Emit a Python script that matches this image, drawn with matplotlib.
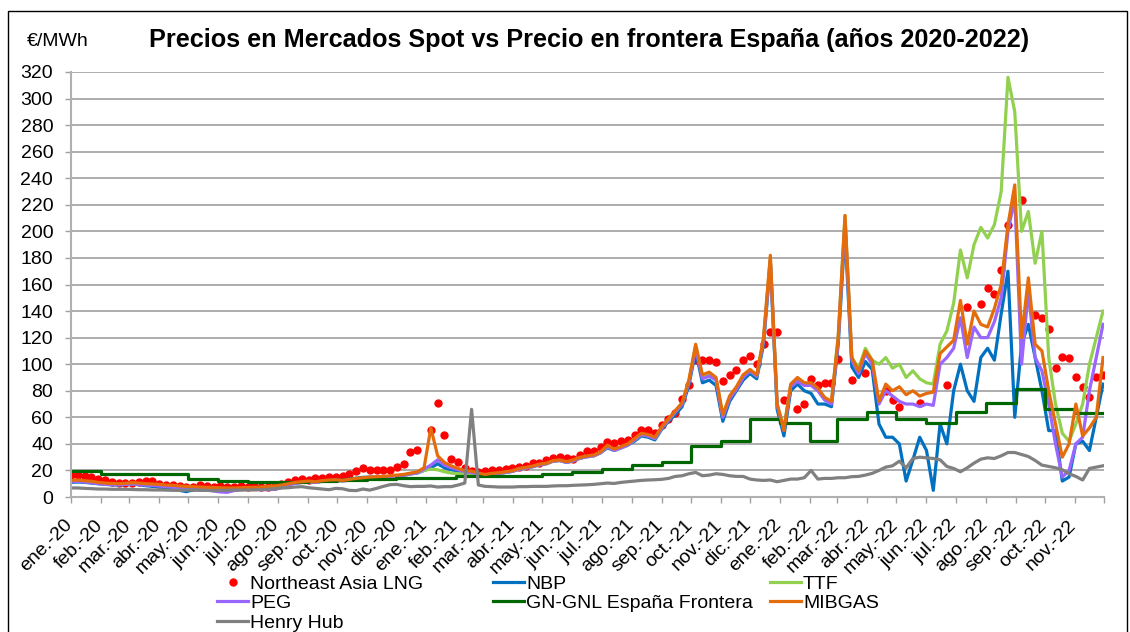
import numpy as np
import pandas as pd
import matplotlib
matplotlib.use('Agg')
import matplotlib.pyplot as plt
from matplotlib.patches import Rectangle
from matplotlib.transforms import ScaledTranslation

plt.rcParams['font.family'] = ['Liberation Sans', 'DejaVu Sans']

# weekly values, 2020-01-01 .. 2022-11-30 (€/MWh)
semanas = pd.date_range('2020-01-01', periods=153, freq='7D')

mibgas = [12.5, 12.8, 12.3, 11.8, 11.0, 10.5, 10.2, 10.0, 10.3, 10.8,
          10.5, 10.0, 9.8, 9.5, 9.0, 8.8, 8.3, 8.0, 7.8, 7.5,
          7.3, 7.2, 7.0, 6.8, 6.8, 7.0, 7.2, 7.3, 7.5, 8.0,
          8.3, 9.0, 10.0, 11.0, 11.5, 12.0, 11.5, 12.3, 12.8, 13.0,
          12.5, 13.3, 14.0, 14.5, 15.0, 15.3, 15.5, 16.0, 16.5, 17.0,
          18.0, 19.0, 22.0, 52.0, 31.0, 26.0, 23.5, 21.5, 19.8, 19.5,
          18.0, 17.0, 17.8, 18.3, 19.0, 19.8, 21.5, 22.3, 23.3, 24.8,
          25.4, 27.4, 27.9, 26.6, 28.0, 29.9, 30.9, 31.6, 34.0, 39.0,
          36.0, 38.0, 40.0, 44.0, 48.0, 47.0, 45.0, 53.0, 59.0, 65.0,
          71.0, 88.0, 115.0, 92.0, 94.0, 90.0, 62.0, 76.0, 83.0, 92.0,
          96.0, 92.0, 120.0, 182.0, 70.0, 50.0, 85.0, 90.0, 86.0, 86.0,
          82.0, 75.0, 72.0, 120.0, 212.0, 105.0, 95.0, 110.0, 103.0, 72.0,
          85.0, 80.0, 83.0, 77.0, 80.0, 76.0, 78.0, 79.0, 108.0, 113.0,
          118.0, 148.0, 115.0, 140.0, 130.0, 128.0, 142.0, 160.0, 205.0, 235.0,
          120.0, 165.0, 115.0, 110.0, 80.0, 55.0, 30.0, 40.0, 70.0, 46.0,
          52.0, 60.0, 105.0]

peg = [11.5, 11.8, 11.3, 10.8, 10.0, 9.5, 9.3, 9.2, 9.5, 9.8,
       9.5, 9.0, 8.7, 8.3, 7.8, 7.3, 6.8, 6.2, 6.0, 5.8,
       5.3, 4.5, 3.8, 3.5, 4.8, 5.5, 6.0, 6.0, 5.5, 5.5,
       5.8, 7.0, 9.0, 10.3, 11.0, 11.5, 11.0, 11.8, 12.3, 12.5,
       12.0, 12.8, 13.5, 14.0, 14.3, 14.5, 14.8, 15.3, 15.8, 16.3,
       17.3, 18.3, 21.0, 24.0, 28.0, 24.0, 22.0, 20.5, 19.0, 18.5,
       17.3, 16.5, 17.3, 17.8, 18.5, 19.3, 21.0, 21.8, 22.8, 24.3,
       25.0, 27.0, 27.5, 26.0, 27.3, 29.3, 30.3, 31.0, 33.3, 38.0,
       35.0, 37.0, 39.0, 43.0, 47.0, 46.0, 44.0, 52.0, 58.0, 64.0,
       70.0, 86.0, 112.0, 89.0, 91.0, 88.0, 60.0, 74.0, 81.0, 90.0,
       95.0, 91.0, 118.0, 178.0, 69.0, 50.0, 83.0, 87.0, 84.0, 84.0,
       80.0, 73.0, 70.0, 118.0, 208.0, 103.0, 93.0, 108.0, 100.0, 70.0,
       80.0, 76.0, 72.0, 70.0, 70.0, 68.0, 70.0, 69.0, 100.0, 105.0,
       112.0, 135.0, 105.0, 128.0, 120.0, 120.0, 132.0, 150.0, 200.0, 225.0,
       100.0, 155.0, 105.0, 95.0, 70.0, 40.0, 15.0, 20.0, 40.0, 45.0,
       80.0, 105.0, 130.0]

nbp = [11.0, 11.3, 11.0, 10.5, 10.0, 9.5, 9.2, 9.0, 9.5, 9.8,
       9.3, 8.5, 8.0, 7.5, 7.0, 6.0, 5.0, 4.0, 5.5, 5.5,
       5.3, 5.0, 5.0, 5.5, 6.0, 6.0, 6.0, 6.2, 6.5, 7.0,
       7.5, 8.5, 9.5, 10.5, 11.0, 11.5, 11.0, 12.0, 12.5, 12.8,
       12.5, 13.5, 14.2, 14.8, 15.0, 15.0, 15.0, 15.5, 16.0, 16.5,
       17.5, 18.0, 20.0, 22.0, 25.0, 22.0, 20.5, 19.5, 18.5, 18.0,
       17.0, 16.5, 17.3, 17.8, 18.5, 19.3, 21.0, 21.8, 22.8, 24.3,
       25.0, 27.0, 27.5, 26.0, 27.3, 29.3, 30.3, 31.0, 33.3, 37.0,
       35.0, 37.0, 39.0, 42.0, 46.0, 45.0, 43.0, 51.0, 57.0, 62.0,
       68.0, 84.0, 110.0, 86.0, 88.0, 84.0, 57.0, 72.0, 80.0, 88.0,
       93.0, 89.0, 115.0, 176.0, 66.0, 46.0, 80.0, 85.0, 80.0, 78.0,
       70.0, 70.0, 68.0, 115.0, 200.0, 98.0, 90.0, 102.0, 96.0, 55.0,
       45.0, 45.0, 40.0, 12.0, 28.0, 45.0, 35.0, 5.0, 55.0, 40.0,
       80.0, 100.0, 80.0, 72.0, 105.0, 112.0, 103.0, 138.0, 170.0, 60.0,
       115.0, 130.0, 105.0, 80.0, 50.0, 50.0, 12.0, 15.0, 40.0, 42.0,
       35.0, 60.0, 85.0]

ttf = [11.8, 12.0, 11.6, 11.1, 10.3, 9.8, 9.5, 9.3, 9.6, 10.0,
       9.8, 9.3, 9.0, 8.6, 8.2, 7.8, 7.3, 6.8, 6.5, 6.3,
       6.0, 5.8, 5.6, 5.8, 6.0, 6.3, 6.5, 6.6, 6.8, 7.3,
       7.7, 8.5, 9.5, 10.5, 11.0, 11.5, 11.0, 11.8, 12.3, 12.5,
       12.0, 12.8, 13.5, 14.0, 14.3, 14.5, 14.8, 15.3, 15.8, 16.3,
       17.3, 18.3, 20.0, 21.0, 20.5, 19.0, 18.0, 17.5, 17.5, 17.8,
       17.0, 16.5, 17.3, 17.8, 18.5, 19.3, 21.0, 21.8, 22.8, 24.3,
       25.0, 27.0, 27.5, 26.0, 27.3, 29.3, 30.3, 31.0, 33.3, 38.0,
       35.0, 37.0, 39.0, 43.0, 47.0, 46.0, 44.0, 52.0, 58.0, 64.0,
       70.0, 87.0, 114.0, 90.0, 92.0, 89.0, 61.0, 75.0, 82.0, 91.0,
       95.0, 91.0, 119.0, 180.0, 70.0, 52.0, 84.0, 88.0, 85.0, 85.0,
       81.0, 74.0, 71.0, 122.0, 212.0, 105.0, 97.0, 112.0, 103.0, 100.0,
       105.0, 97.0, 100.0, 90.0, 95.0, 89.0, 86.0, 85.0, 115.0, 125.0,
       146.0, 186.0, 165.0, 190.0, 203.0, 195.0, 205.0, 230.0, 316.0, 290.0,
       200.0, 215.0, 176.0, 200.0, 105.0, 70.0, 48.0, 42.0, 55.0, 70.0,
       100.0, 120.0, 140.0]

henry_hub = [6.8, 6.8, 6.5, 6.3, 6.0, 6.0, 5.8, 5.8, 5.8, 5.7,
             5.5, 5.5, 5.3, 5.3, 5.2, 5.0, 5.0, 5.2, 5.3, 5.0,
             5.0, 4.8, 5.0, 5.0, 5.3, 5.2, 5.3, 5.3, 5.5, 5.8,
             6.2, 6.8, 7.0, 7.5, 7.8, 7.0, 6.5, 6.0, 5.5, 6.5,
             6.2, 5.0, 4.8, 6.0, 5.2, 6.5, 8.0, 9.3, 9.5, 8.5,
             7.8, 8.0, 8.0, 8.3, 7.5, 7.8, 7.8, 9.0, 10.5, 66.0,
             9.0, 8.0, 7.8, 7.5, 7.5, 7.5, 7.8, 7.8, 8.0, 8.0,
             8.0, 8.3, 8.5, 8.5, 8.8, 9.0, 9.2, 9.5, 10.0, 10.5,
             10.2, 11.0, 11.5, 12.0, 12.5, 12.8, 13.0, 13.3, 14.0, 15.5,
             16.0, 17.5, 18.5, 16.0, 16.5, 17.5, 17.0, 16.0, 15.5, 15.5,
             13.5, 12.8, 12.5, 12.8, 11.5, 12.5, 13.5, 13.5, 14.5, 20.0,
             13.5, 14.0, 14.0, 14.5, 14.5, 15.3, 15.5, 16.5, 17.8, 20.0,
             22.5, 23.5, 27.0, 22.0, 29.0, 30.0, 29.5, 29.0, 28.0, 23.0,
             21.5, 19.0, 22.0, 25.5, 28.5, 29.5, 29.0, 31.0, 33.5, 33.5,
             32.0, 30.5, 27.5, 24.0, 23.0, 22.0, 20.5, 17.5, 15.5, 12.8,
             21.5, 22.5, 23.5]

nan = np.nan
ne_asia_lng = [16.5, 16.3, 15.8, 14.8, 13.8, 12.5, 11.3, 10.8, 10.3, 10.3,
               11.0, 12.0, 12.0, 10.0, 9.0, 8.8, 8.3, 7.5, 7.3, 8.8,
               8.5, 7.8, 8.0, 7.3, 7.8, 8.0, 7.8, 8.3, 7.8, 7.8,
               8.3, 9.5, 11.5, 12.8, 13.3, 13.0, 14.0, 14.0, 14.8, 15.0,
               16.0, 17.0, 19.6, 21.6, 20.3, 20.3, 20.3, 20.3, 22.8, 24.6,
               34.0, 35.4, nan, 50.5, 70.5, 47.0, 28.6, 26.0, 22.0, 19.8,
               19.0, 19.5, 20.0, 20.3, 20.8, 21.6, 22.3, 23.3, 25.4, 25.9,
               27.9, 29.0, 30.4, 29.0, 28.4, 31.6, 34.6, 34.9, 37.4, 41.7,
               40.4, 42.4, 43.0, 46.7, 50.5, 50.5, 48.0, 54.0, 58.5, 63.5,
               73.5, 84.3, 103.0, 103.5, 103.0, 102.0, 87.0, 92.0, 96.0, 103.0,
               106.0, 100.0, 115.0, 124.0, 124.0, 73.0, nan, 66.5, 70.0, 89.0,
               84.3, 85.5, 85.5, 104.0, nan, 88.0, nan, 93.0, nan, nan,
               80.0, 73.0, 68.0, nan, nan, 70.5, nan, nan, nan, 84.0,
               nan, nan, 143.0, nan, 145.0, 157.0, 153.0, 171.0, 205.0, nan,
               224.0, nan, 137.0, 134.5, 126.5, 97.0, 105.7, 104.4, 90.0, 82.6,
               75.5, 90.6, 92.0]

# monthly border price (step line), ene-20 .. nov-22
meses = pd.date_range('2020-01-01', '2022-11-01', freq='MS')
gn_gnl = [19.8, 17.2, 17.5, 17.5, 13.5, 12.0, 11.0, 11.5, 12.0, 12.5, 13.5, 14.0,
          14.0, 15.5, 15.5, 16.0, 17.0, 19.0, 20.8, 24.0, 26.6, 38.4, 42.5, 58.7,
          55.5, 42.0, 58.7, 63.8, 58.7, 55.5, 63.8, 70.8, 81.3, 66.5, 63.0]

abrev = ['ene.', 'feb.', 'mar.', 'abr.', 'may.', 'jun.',
         'jul.', 'ago.', 'sep.', 'oct.', 'nov.', 'dic.']

W, H = 1130, 632
fig = plt.figure(figsize=(W / 100, H / 100), dpi=100)
ax = fig.add_axes([71 / W, 1 - 497 / H, (1104 - 71) / W, (497 - 72) / H])

lw = 2.3
h_lng, = ax.plot(semanas, ne_asia_lng, ls='none', marker='o', ms=5,
                 color='#FF0000', label='Northeast Asia LNG')
h_nbp, = ax.plot(semanas, nbp, color='#0070C0', lw=lw, label='NBP')
h_ttf, = ax.plot(semanas, ttf, color='#92D050', lw=lw, label='TTF')
h_peg, = ax.plot(semanas, peg, color='#9966FF', lw=lw, label='PEG')
fin = pd.Timestamp('2022-12-01')
h_gn, = ax.step(list(meses) + [fin], gn_gnl + [gn_gnl[-1]], where='post',
                color='#006600', lw=lw, label='GN-GNL España Frontera')
h_mib, = ax.plot(semanas, mibgas, color='#E46C0A', lw=lw, label='MIBGAS')
h_hh, = ax.plot(semanas, henry_hub, color='#808080', lw=lw, label='Henry Hub')

ax.set_xlim(pd.Timestamp('2020-01-01'), fin)
ax.set_ylim(0, 320)
ax.set_yticks(range(0, 321, 20))
ticks = pd.date_range('2020-01-01', fin, freq='MS')
etiquetas = [f'{abrev[t.month - 1]}-{t.strftime("%y")}' for t in ticks[:-1]] + ['']
ax.set_xticks(ticks)
ax.set_xticklabels(etiquetas, rotation=45, ha='right', va='top',
                   rotation_mode='anchor', fontsize=14)
ax.tick_params(axis='y', labelsize=14, length=4.3, width=1, color='#A0A0A0', pad=8.5)
ax.tick_params(axis='x', length=4, width=1, color='#A0A0A0', pad=10)
desplaza = ScaledTranslation(-0.07, 0, fig.dpi_scale_trans)
for lab in ax.get_xticklabels():
    lab.set_transform(lab.get_transform() + desplaza)

ax.yaxis.grid(True, color='#A0A0A0', lw=1.2)
ax.set_axisbelow(True)
for s in ['top', 'right']:
    ax.spines[s].set_visible(False)
for s in ['left', 'bottom']:
    ax.spines[s].set_color('#B0B0B0')
    ax.spines[s].set_linewidth(1.5)

fig.text(589 / W, 1 - 47.5 / H,
         'Precios en Mercados Spot vs Precio en frontera España (años 2020-2022)',
         ha='center', va='baseline', fontsize=18.2, fontweight='bold')
fig.text(27 / W, 1 - 46.5 / H, '€/MWh', ha='left', va='baseline', fontsize=14)

# legend laid out in three columns, filled row by row
columnas = [([h_lng, h_peg, h_hh], 217), ([h_nbp, h_gn], 493), ([h_ttf, h_mib], 770)]
for hs, x in columnas:
    fig.legend(hs, [h.get_label() for h in hs], loc='upper left',
               bbox_to_anchor=(x / W, 1 - 575 / H), frameon=False, fontsize=14,
               handlelength=1.6, handletextpad=0.1, borderpad=0,
               borderaxespad=0, labelspacing=0.1)

fig.add_artist(Rectangle((8 / W, -0.01), (1127 - 8) / W, 1.01 - 11 / H,
                         transform=fig.transFigure, fill=False,
                         ec='black', lw=1))

fig.savefig('out.png', dpi=100)
